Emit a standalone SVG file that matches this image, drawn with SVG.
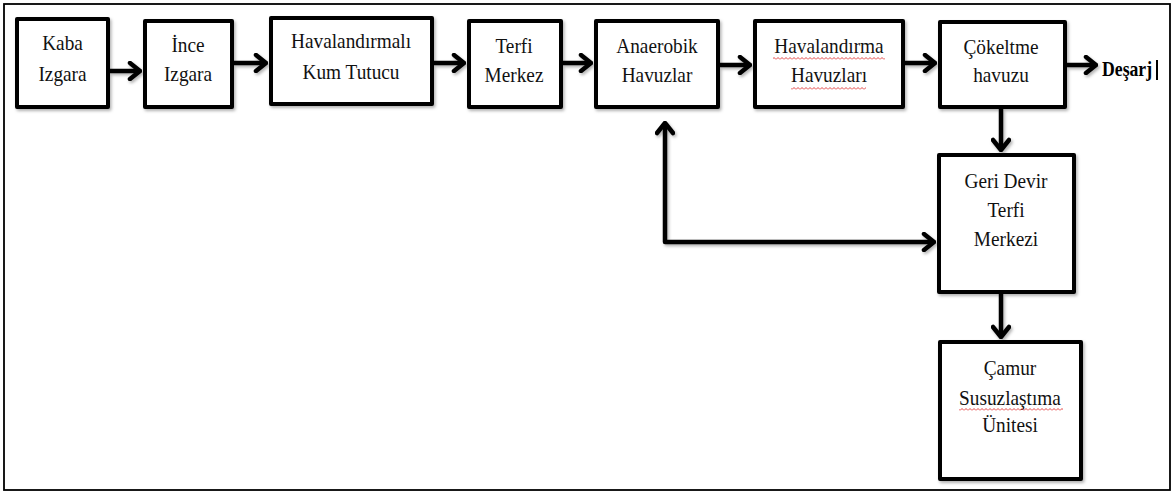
<svg xmlns="http://www.w3.org/2000/svg" width="1172" height="493" viewBox="0 0 1172 493">
<style>
.box{fill:#fff;stroke:#000;stroke-width:4;stroke-linejoin:round;filter:url(#sh)}
.t{font-family:"Liberation Serif","Times New Roman",serif;font-size:19.3px;fill:#111;text-anchor:middle}
.b{font-family:"Liberation Serif","Times New Roman",serif;font-size:17.7px;font-weight:bold;fill:#000}
.c{fill:none;stroke:#000;stroke-width:4.5;stroke-linejoin:round;marker-end:url(#ah)}
</style>
<defs>
<filter id="sh" x="-10%" y="-10%" width="130%" height="130%">
<feDropShadow dx="1.5" dy="2" stdDeviation="1.5" flood-color="#000" flood-opacity="0.3"/>
</filter>
<filter id="shc" filterUnits="userSpaceOnUse" x="0" y="0" width="1172" height="493">
<feDropShadow dx="1.5" dy="2" stdDeviation="1.5" flood-color="#000" flood-opacity="0.3"/>
</filter>
<marker id="ah" viewBox="-14 -10 16 20" refX="-1" refY="0" markerWidth="16" markerHeight="20" markerUnits="userSpaceOnUse" orient="auto-start-reverse">
<path d="M-10,-8 L0,0 L-10,8" fill="none" stroke="#000" stroke-width="4.5" stroke-linecap="round" stroke-linejoin="round"/>
</marker>
<pattern id="wave" width="4" height="3" patternUnits="userSpaceOnUse">
<path d="M0,2.5 L2,0.5 L4,2.5" fill="none" stroke="#e03030" stroke-width="0.9"/>
</pattern>
</defs>
<rect x="0" y="0" width="1172" height="493" fill="#fff"/>
<rect x="4" y="4" width="1166" height="486" fill="none" stroke="#000" stroke-width="1.8"/>

<g id="connectors" filter="url(#shc)">
<path class="c" d="M110,71 H139"/>
<path class="c" d="M234,63 H265"/>
<path class="c" d="M434,63 H463"/>
<path class="c" d="M563,63 H590"/>
<path class="c" d="M720,65 H749"/>
<path class="c" d="M905,63 H934"/>
<path class="c" d="M1067,65 H1095"/>
<path class="c" d="M1001,109 V149"/>
<path class="c" d="M1001,294 V336"/>
<path class="c" d="M665,124 V242 H933" style="marker-start:url(#ah)"/>
</g>

<g id="kaba">
<rect class="box" x="17" y="19" width="91" height="88"/>
<text class="t" transform="translate(62.5,50) scale(1,1.14)">Kaba</text>
<text class="t" transform="translate(62.5,81) scale(1,1.14)">Izgara</text>
</g>
<g id="ince">
<rect class="box" x="145" y="21" width="87" height="86"/>
<text class="t" transform="translate(188,52) scale(1,1.14)">İnce</text>
<text class="t" transform="translate(188,81) scale(1,1.14)">Izgara</text>
</g>
<g id="kumtutucu">
<rect class="box" x="271" y="18" width="161" height="86"/>
<text class="t" transform="translate(351,48) scale(1,1.14)">Havalandırmalı</text>
<text class="t" transform="translate(351,79) scale(1,1.14)">Kum Tutucu</text>
</g>
<g id="terfi">
<rect class="box" x="469" y="21" width="92" height="86"/>
<text class="t" transform="translate(514,53) scale(1,1.14)">Terfi</text>
<text class="t" transform="translate(514,82) scale(1,1.14)">Merkez</text>
</g>
<g id="anaerobik">
<rect class="box" x="596" y="21" width="122" height="86"/>
<text class="t" transform="translate(657,53) scale(1,1.14)">Anaerobik</text>
<text class="t" transform="translate(657,82) scale(1,1.14)">Havuzlar</text>
</g>
<g id="havalandirma">
<rect class="box" x="755" y="21" width="148" height="86"/>
<text class="t" transform="translate(829,53) scale(1,1.14)">Havalandırma</text>
<text class="t" transform="translate(829,82) scale(1,1.14)">Havuzları</text>
<rect x="773" y="57" width="112" height="3" fill="url(#wave)"/>
<rect x="791" y="87" width="75" height="3" fill="url(#wave)"/>
</g>
<g id="cokeltme">
<rect class="box" x="940" y="22" width="125" height="85"/>
<text class="t" transform="translate(1001,54) scale(1,1.14)">Çökeltme</text>
<text class="t" transform="translate(1001,82) scale(1,1.14)">havuzu</text>
</g>
<g id="desarj">
<text class="b" transform="translate(1102,76) scale(1,1.15)">Deşarj</text>
<rect x="1156" y="60" width="2" height="20" fill="#000"/>
</g>
<g id="geridevir">
<rect class="box" x="939" y="155" width="135" height="137"/>
<text class="t" transform="translate(1006,188) scale(1,1.14)">Geri Devir</text>
<text class="t" transform="translate(1006,217) scale(1,1.14)">Terfi</text>
<text class="t" transform="translate(1006,246) scale(1,1.14)">Merkezi</text>
</g>
<g id="camur">
<rect class="box" x="940" y="342" width="141" height="137"/>
<text class="t" transform="translate(1010,375) scale(1,1.14)">Çamur</text>
<text class="t" transform="translate(1010,405) scale(1,1.14)">Susuzlaştıma</text>
<text class="t" transform="translate(1010,432) scale(1,1.14)">Ünitesi</text>
<rect x="959" y="408" width="104" height="3" fill="url(#wave)"/>
</g>
</svg>
